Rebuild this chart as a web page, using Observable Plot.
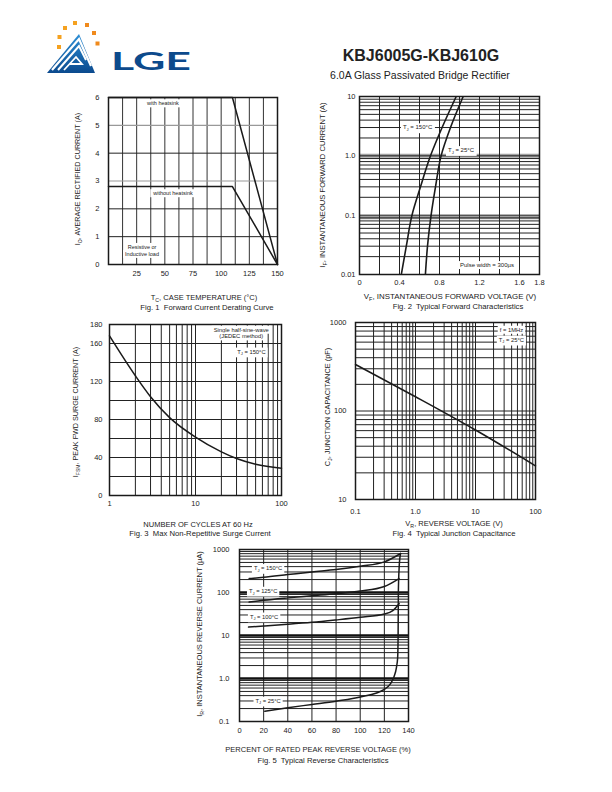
<!DOCTYPE html>
<html><head><meta charset="utf-8">
<script src="https://cdn.jsdelivr.net/npm/d3@7"></script>
<script src="https://cdn.jsdelivr.net/npm/@observablehq/plot@0.6"></script>
<style>
body{margin:0;background:#fff;}
#page{position:relative;width:612px;height:792px;overflow:hidden;font-family:"Liberation Sans",Arial,sans-serif;color:#222;background:#fff;}
.abs{position:absolute;white-space:nowrap;line-height:1;transform:translate(-50%,-50%);}
.rot{transform:translate(-50%,-50%) rotate(-90deg);}
sub{font-size:70%;vertical-align:-0.3em;line-height:0;}
</style></head>
<body><div id="page">
<svg style="position:absolute;left:0;top:0" width="200" height="90">
  <defs><linearGradient id="lg" x1="0" y1="0" x2="0" y2="1"><stop offset="0" stop-color="#2d8fd6"/><stop offset="1" stop-color="#0b4a8e"/></linearGradient></defs>
  <polygon points="47,73 79,34 95,73" fill="url(#lg)"/>
  <polyline points="52,70 79,39 91,66" fill="none" stroke="#fff" stroke-width="2.2"/>
  <polyline points="58,70 79,46 86,60" fill="none" stroke="#fff" stroke-width="2"/>
  <polyline points="64,70 76,57 82,64 70,64" fill="none" stroke="#fff" stroke-width="1.8"/>
  <g fill="#f5a11f">
    <rect x="57" y="45" width="4" height="4"/><rect x="57.5" y="35" width="4" height="4"/>
    <rect x="63" y="26" width="4" height="4"/><rect x="73" y="21" width="4" height="4"/>
    <rect x="85" y="23" width="4" height="4" fill="#f08a1c"/><rect x="92" y="31" width="4" height="4" fill="#f08a1c"/>
    <rect x="95.5" y="41.5" width="4" height="4" fill="#f08a1c"/>
  </g>
  <text x="111" y="70" font-family="Lato, 'Noto Sans', sans-serif" font-weight="700" font-size="24" fill="#0c4a8c" textLength="80" lengthAdjust="spacingAndGlyphs">LGE</text>
</svg>
</div>
<script>
// ---------- Fig. 1 Forward Current Derating Curve ----------
const fig1Temp = [0, 110, 150];
const fig1WithHeatsink = [6, 6, 0];
const fig1WithoutHeatsink = [2.8, 2.8, 0];
const fig1XTicks = [25, 50, 75, 100, 125, 150];
const fig1YTicks = [0, 1, 2, 3, 4, 5, 6];
const fig1GridX = [12.5, 25, 37.5, 50, 62.5, 75, 87.5, 100, 112.5, 125, 137.5];
const fig1GridY = [1, 2, 4];
const fig1GrayY = [3, 5];

// ---------- Fig. 2 Typical Forward Characteristics ----------
const fig2Current = [0.01, 0.03, 0.1, 0.3, 1, 3, 10];
const fig2V150 = [0.418, 0.468, 0.525, 0.61, 0.71, 0.826, 0.967];
const fig2V25 = [0.659, 0.68, 0.716, 0.76, 0.816, 0.91, 1.037];
const fig2XTicks = [0, 0.4, 0.8, 1.2, 1.6, 1.8];
const fig2XLabels = ["0", "0.4", "0.8", "1.2", "1.6", "1.8"];
const fig2YTicks = [0.01, 0.1, 1, 10];
const fig2YLabels = ["0.01", "0.1", "1.0", "10"];
const fig2GridX = [0.2, 0.4, 0.6, 0.8, 1.0, 1.2, 1.4, 1.6];
const fig2GridY = [0.02,0.03,0.04,0.05,0.06,0.07,0.08,0.09,0.1,0.2,0.3,0.4,0.5,0.6,0.7,0.8,0.9,1,2,3,4,5,6,7,8,9];
const fig2Bands = [1, 0.092];

// ---------- Fig. 3 Max Non-Repetitive Surge Current ----------
const fig3Cycles = [1, 2, 3, 5, 10, 20, 30, 50, 100];
const fig3Current = [168, 126, 104, 82, 61.5, 46, 39, 33, 28.8];
const fig3XTicks = [1, 10, 100];
const fig3XLabels = ["1", "10", "100"];
const fig3YTicks = [0, 40, 80, 120, 160, 180];
const fig3GridX = [2,3,4,5,6,7,8,9,10,20,30,40,50,60,70,80,90];
const fig3GridY = [20, 40, 60, 80, 100, 120, 140, 160];

// ---------- Fig. 4 Typical Junction Capacitance ----------
const fig4Voltage = [0.1, 1, 10, 100];
const fig4Cap = [335, 145, 61, 24];
const fig4XTicks = [0.1, 1, 10, 100];
const fig4XLabels = ["0.1", "1.0", "10", "100"];
const fig4YTicks = [10, 100, 1000];
const fig4YLabels = ["10", "100", "1000"];
const fig4GridX = [0.2,0.3,0.4,0.5,0.6,0.7,0.8,0.9,1,2,3,4,5,6,7,8,9,10,20,30,40,50,60,70,80,90];
const fig4GridY = [20,30,40,50,60,70,80,90,100,200,300,400,500,600,700,800,900];

// ---------- Fig. 5 Typical Reverse Characteristics ----------
const fig5Pct150 = [8, 20, 40, 60, 80, 100, 120, 133.5];
const fig5Ir150 = [211, 226, 261, 301, 341, 408, 515, 807];
const fig5Pct125 = [8, 20, 40, 60, 80, 100, 120, 132.2];
const fig5Ir125 = [60, 66, 75, 84, 94, 108, 138, 211];
const fig5Pct100 = [7.5, 20, 40, 60, 80, 100, 120, 127, 132.2];
const fig5Ir100 = [15.7, 16.6, 18.2, 20.2, 23, 26.5, 31.5, 38, 55];
const fig5Pct25 = [21, 40, 60, 80, 100, 120, 125, 128, 130, 131, 131.4, 131.6, 132.3, 133.4];
const fig5Ir25 = [0.173, 0.209, 0.249, 0.297, 0.37, 0.56, 0.75, 1.1, 1.8, 3, 10, 100, 400, 807];
const fig5XTicks = [0, 20, 40, 60, 80, 100, 120, 140];
const fig5YTicks = [0.1, 1, 10, 100, 1000];
const fig5YLabels = ["0.1", "1.0", "10", "100", "1000"];
const fig5GridX = [20, 40, 60, 80, 100, 120];
const fig5GridY = [0.2,0.3,0.4,0.5,0.6,0.7,0.8,0.9,1,2,3,4,5,6,7,8,9,10,20,30,40,50,60,70,80,90,100,200,300,400,500,600,700,800,900];
const fig5Bands = [10, 1, 100];

// ---------- helpers ----------
const page = document.getElementById("page");
const FONT = '"Liberation Sans", Arial, sans-serif';
const INK = "#1a1a1a";
const rows = (xs, ys) => xs.map((x, i) => ({x, y: ys[i]}));
const fmt = (ticks, labels) => d => {
  const i = ticks.findIndex(t => Math.abs(t - d) <= 1e-9 * Math.abs(t) + 1e-12);
  return i < 0 ? "" : labels[i];
};
const plain = d => String(d);

function chart(box, xs, ys, marks) {
  const ml = 45, mr = 10, mt = 10, mb = 25;
  const svg = Plot.plot({
    width: box.R - box.L + ml + mr,
    height: box.B - box.T + mt + mb,
    marginLeft: ml, marginRight: mr, marginTop: mt, marginBottom: mb,
    x: {tickSize: 0, label: null, ...xs},
    y: {tickSize: 0, label: null, ...ys},
    style: {fontFamily: FONT, fontSize: "7.5px", color: "#222", background: "none", overflow: "visible"},
    marks
  });
  svg.style.position = "absolute";
  svg.style.left = (box.L - ml) + "px";
  svg.style.top = (box.T - mt) + "px";
  page.appendChild(svg);
  return svg;
}

function note(svg, xv, yv, markup, size = 6) {
  const X = svg.scale("x").apply(xv), Y = svg.scale("y").apply(yv);
  const g = d3.select(svg).append("g");
  const rect = g.append("rect").attr("fill", "white");
  const t = g.append("text").attr("x", X).attr("y", Y)
    .attr("text-anchor", "middle").attr("dy", "0.35em")
    .attr("font-size", size).attr("font-family", FONT).attr("fill", "#222");
  let shifted = false;
  markup.split(/(\{[^}]*\})/).forEach(s => {
    if (!s) return;
    if (s.startsWith("{")) {
      t.append("tspan").attr("font-size", size * 0.7).attr("dy", size * 0.3).text(s.slice(1, -1));
      shifted = true;
    } else {
      const sp = t.append("tspan").text(s);
      if (shifted) { sp.attr("dy", -size * 0.3); shifted = false; }
    }
  });
  const bb = t.node().getBBox();
  rect.attr("x", bb.x - 2).attr("y", bb.y - 1).attr("width", bb.width + 4).attr("height", bb.height + 2);
}

function label(html, x, y, size, extra = "") {
  const d = document.createElement("div");
  d.className = "abs" + extra;
  d.style.left = x + "px"; d.style.top = y + "px"; d.style.fontSize = size + "px";
  d.innerHTML = html;
  page.appendChild(d);
  return d;
}

const TS = 7.5, CS = 7.7;

// ---------- Header ----------
label("KBJ6005G-KBJ610G", 421, 56, 16).style.fontWeight = "bold";
label("6.0A Glass Passivated Bridge Rectifier", 420, 75, 10.5);

// ---------- Fig 1 ----------
const f1 = chart({L: 108, R: 277, T: 97, B: 264},
  {domain: [0, 150], ticks: fig1XTicks, tickFormat: plain, tickPadding: 6},
  {domain: [0, 6], ticks: fig1YTicks, tickFormat: plain, tickPadding: 9},
  [
    Plot.ruleX(fig1GridX, {stroke: "#333", strokeWidth: 1}),
    Plot.ruleY(fig1GridY, {stroke: "#222", strokeWidth: 1}),
    Plot.ruleY(fig1GrayY, {stroke: "#999", strokeWidth: 1.2}),
    Plot.frame({stroke: INK, strokeWidth: 1.5}),
    Plot.line(rows(fig1Temp, fig1WithHeatsink), {x: "x", y: "y", stroke: INK, strokeWidth: 1.5}),
    Plot.line(rows(fig1Temp, fig1WithoutHeatsink), {x: "x", y: "y", stroke: INK, strokeWidth: 1.5})
  ]);
note(f1, 48.8, 5.77, "with heatsink", 5.5);
note(f1, 57.7, 2.54, "without heatsink", 5.5);
note(f1, 30.2, 0.61, "Resistive or", 5.5);
note(f1, 30.2, 0.36, "Inductive load", 5.5);
label("I<sub>O</sub>, AVERAGE RECTIFIED CURRENT (A)", 78, 179, 7.2, " rot");
label("T<sub>C</sub>, CASE TEMPERATURE (°C)", 204, 298, TS);
label("Fig. 1&nbsp; Forward Current Derating Curve", 207, 308, CS);

// ---------- Fig 2 ----------
const f2 = chart({L: 359, R: 539, T: 96, B: 274},
  {domain: [0, 1.8], ticks: fig2XTicks, tickFormat: fmt(fig2XTicks, fig2XLabels), tickPadding: 5},
  {type: "log", domain: [0.01, 10], ticks: fig2YTicks, tickFormat: fmt(fig2YTicks, fig2YLabels), tickPadding: 4},
  [
    Plot.ruleY(fig2Bands, {stroke: "#8a8a8a", strokeWidth: 4, strokeOpacity: 0.8}),
    Plot.ruleX(fig2GridX, {stroke: "#222", strokeWidth: 1}),
    Plot.ruleY(fig2GridY, {stroke: "#222", strokeWidth: 1}),
    Plot.frame({stroke: INK, strokeWidth: 1.5}),
    Plot.line(rows(fig2V150, fig2Current), {x: "x", y: "y", curve: "monotone-y", stroke: INK, strokeWidth: 1.6, clip: true}),
    Plot.line(rows(fig2V25, fig2Current), {x: "x", y: "y", curve: "monotone-y", stroke: INK, strokeWidth: 1.6, clip: true})
  ]);
note(f2, 0.586, 2.97, "T{J} = 150°C", 6);
note(f2, 1.02, 1.23, "T{J} = 25°C", 6);
note(f2, 1.28, 0.0142, "Pulse width = 300µs", 6);
label("I<sub>F</sub>, INSTANTANEOUS FORWARD CURRENT (A)", 323, 185, 7.6, " rot");
label("V<sub>F</sub>, INSTANTANEOUS FORWARD VOLTAGE (V)", 450, 297, 7.9);
label("Fig. 2&nbsp; Typical Forward Characteristics", 458, 307, CS);

// ---------- Fig 3 ----------
const f3 = chart({L: 109, R: 281, T: 324, B: 495},
  {type: "log", domain: [1, 100], ticks: fig3XTicks, tickFormat: fmt(fig3XTicks, fig3XLabels), tickPadding: 5},
  {domain: [0, 180], ticks: fig3YTicks, tickFormat: plain, tickPadding: 7},
  [
    Plot.ruleX(fig3GridX, {stroke: "#222", strokeWidth: 1}),
    Plot.ruleY(fig3GridY, {stroke: "#222", strokeWidth: 1}),
    Plot.frame({stroke: INK, strokeWidth: 1.5}),
    Plot.line(rows(fig3Cycles, fig3Current), {x: "x", y: "y", curve: "monotone-x", stroke: INK, strokeWidth: 1.5})
  ]);
note(f3, 34.5, 174, "Single half-sine-wave", 5.8);
note(f3, 34.5, 167, "(JEDEC method)", 5.8);
note(f3, 45.3, 151, "T{J} = 150°C", 5.8);
label("I<sub>FSM</sub>, PEAK FWD SURGE CURRENT (A)", 76, 412, 7.2, " rot");
label("NUMBER OF CYCLES AT 60 Hz", 198, 525, TS);
label("Fig. 3&nbsp; Max Non-Repetitive Surge Current", 200, 534, CS);

// ---------- Fig 4 ----------
const f4 = chart({L: 355, R: 535, T: 322, B: 499},
  {type: "log", domain: [0.1, 100], ticks: fig4XTicks, tickFormat: fmt(fig4XTicks, fig4XLabels), tickPadding: 9},
  {type: "log", domain: [10, 1000], ticks: fig4YTicks, tickFormat: fmt(fig4YTicks, fig4YLabels), tickPadding: 9},
  [
    Plot.ruleX(fig4GridX, {stroke: "#222", strokeWidth: 1}),
    Plot.ruleY(fig4GridY, {stroke: "#222", strokeWidth: 1}),
    Plot.frame({stroke: INK, strokeWidth: 1.5}),
    Plot.line(rows(fig4Voltage, fig4Cap), {x: "x", y: "y", curve: "monotone-x", stroke: INK, strokeWidth: 1.5})
  ]);
note(f4, 40.4, 818, "f = 1MHz", 5.8);
note(f4, 40.4, 631, "T{J} = 25°C", 5.8);
label("C<sub>J</sub>, JUNCTION CAPACITANCE (pF)", 328, 407, 7.4, " rot");
label("V<sub>R</sub>, REVERSE VOLTAGE (V)", 454, 524, TS);
label("Fig. 4&nbsp; Typical Junction Capacitance", 454, 534, CS);

// ---------- Fig 5 ----------
const f5 = chart({L: 239, R: 408, T: 549, B: 721},
  {domain: [0, 140], ticks: fig5XTicks, tickFormat: plain, tickPadding: 6},
  {type: "log", domain: [0.1, 1000], ticks: fig5YTicks, tickFormat: fmt(fig5YTicks, fig5YLabels), tickPadding: 10},
  [
    Plot.ruleX(fig5GridX, {stroke: "#222", strokeWidth: 1}),
    Plot.ruleY(fig5GridY, {stroke: "#222", strokeWidth: 1}),
    Plot.ruleY(fig5Bands, {stroke: "#111", strokeWidth: 2.5}),
    Plot.frame({stroke: INK, strokeWidth: 1.5}),
    Plot.line(rows(fig5Pct150, fig5Ir150), {x: "x", y: "y", curve: "monotone-x", stroke: INK, strokeWidth: 1.5}),
    Plot.line(rows(fig5Pct125, fig5Ir125), {x: "x", y: "y", curve: "monotone-x", stroke: INK, strokeWidth: 1.5}),
    Plot.line(rows(fig5Pct100, fig5Ir100), {x: "x", y: "y", curve: "monotone-x", stroke: INK, strokeWidth: 1.5}),
    Plot.line(rows(fig5Pct25, fig5Ir25), {x: "x", y: "y", curve: "monotone-x", stroke: INK, strokeWidth: 1.5})
  ]);
note(f5, 24.1, 361, "T{J} = 150°C", 5.8);
note(f5, 20, 107, "T{J} = 125°C", 5.8);
note(f5, 20.8, 26.9, "T{J} = 100°C", 5.8);
note(f5, 24.1, 0.297, "T{J} = 25°C", 5.8);
label("I<sub>R</sub>, INSTANTANEOUS REVERSE CURRENT (µA)", 200, 634, 7.5, " rot");
label("PERCENT OF RATED PEAK REVERSE VOLTAGE (%)", 318, 750, TS);
label("Fig. 5&nbsp; Typical Reverse Characteristics", 323, 761, CS);
</script>
</body></html>
